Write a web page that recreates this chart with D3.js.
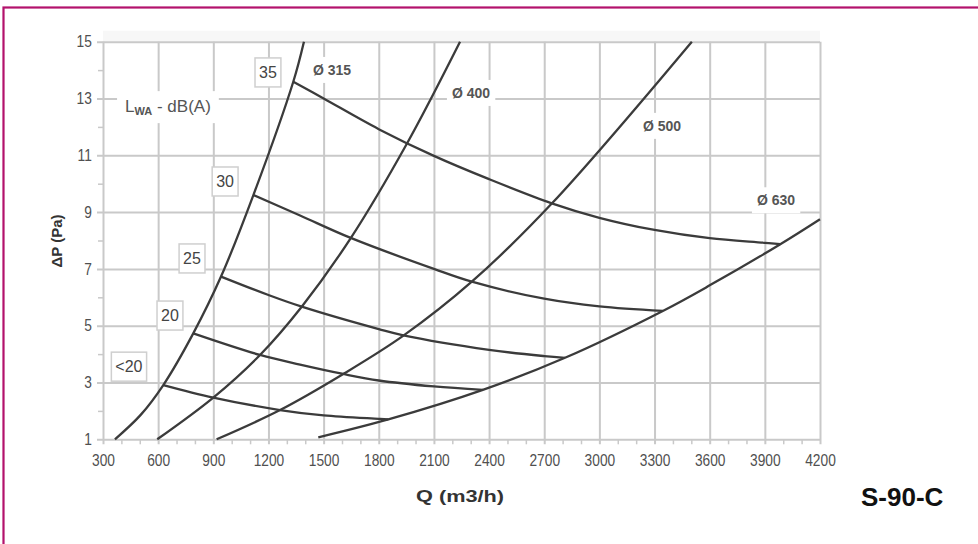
<!DOCTYPE html>
<html>

<head>
    <meta charset="utf-8">
    <style>
        body {
            margin: 0;
            background: #fff;
        }

        svg {
            display: block;
            font-family: 'Liberation Sans', Arial, sans-serif;
        }

        .tick text {
            font-size: 16px;
            fill: #505050;
        }

        .grid line {
            stroke: #c9c9c9;
            stroke-width: 2;
        }

        .minor line {
            stroke: #c9c9c9;
            stroke-width: 1.5;
        }
    </style>
</head>

<body>
    <svg width="978" height="544"></svg>

    <script src="https://d3js.org/d3.v7.min.js"></script>

    <script>
        // axis ticks
        let xTicks = [300, 600, 900, 1200, 1500, 1800, 2100, 2400, 2700, 3000, 3300, 3600, 3900, 4200];
        let yTicks = [1, 3, 5, 7, 9, 11, 13, 15];
        let xMinor = [400, 500, 700, 800, 1000, 1100, 1300, 1400, 1600, 1700, 1900, 2000, 2200, 2300,
            2500, 2600, 2800, 2900, 3100, 3200, 3400, 3500, 3700, 3800, 4000, 4100];
        let yMinor = [2, 4, 6, 8, 10, 12, 14];

        // duct curves  [Q m3/h, dP Pa]
        let duct315 = [[365, 1], [505, 1.86], [628, 2.91], [791, 4.73], [942, 6.73], [1118, 9.6], [1335, 13.59], [1393, 15]];
        let duct400 = [[595, 1], [900, 2.47], [1154, 3.97], [1381, 5.67], [1644, 8.05], [1952, 11.4], [2242, 15]];
        let duct500 = [[918, 1], [1263, 2.03], [1607, 3.3], [1934, 4.65], [2306, 6.55], [2741, 9.3], [3503, 15]];
        let duct630 = [[1471, 1.07], [1852, 1.7], [2366, 2.74], [2813, 3.87], [3345, 5.52], [3600, 6.42], [3984, 7.87], [4200, 8.75]];

        // sound level curves
        let lwLess20 = [[628, 2.91], [900, 2.47], [1263, 2.03], [1500, 1.84], [1800, 1.72], [1852, 1.7]];
        let lw20 = [[791, 4.73], [1154, 3.97], [1372, 3.63], [1607, 3.3], [1800, 3.07], [2100, 2.86], [2366, 2.74]];
        let lw25 = [[942, 6.73], [1200, 6.08], [1381, 5.67], [1800, 4.88], [1934, 4.66], [2400, 4.15], [2700, 3.93], [2813, 3.87]];
        let lw30 = [[1118, 9.6], [1372, 8.88], [1644, 8.1], [2100, 7.0], [2306, 6.55], [2700, 5.95], [3000, 5.68], [3345, 5.52]];
        let lw35 = [[1335, 13.59], [1500, 13.0], [1800, 11.92], [2100, 10.98], [2400, 10.16], [2741, 9.31], [3000, 8.8], [3300, 8.37], [3600, 8.08], [3900, 7.92], [3984, 7.87]];

        // labels
        let ductNames = ["Ø 315", "Ø 400", "Ø 500", "Ø 630"];
        let ductLabelPos = [[1442, 13.83], [2198, 13.02], [3237, 11.86], [3857, 9.24]];
        let lwNames = ["<20", "20", "25", "30", "35"];
        let lwLabelPos = [[441, 3.54], [664, 5.34], [784, 7.35], [964, 10.06], [1197, 13.9]];

        let svg = d3.select("svg");

        // frame round the figure
        svg.append("rect")
            .attr("x", 3.5).attr("y", 7.5)
            .attr("width", 1100).attr("height", 700)
            .style("fill", "none")
            .style("stroke", "#b3126c")
            .style("stroke-width", 2.2);

        let x = d3.scaleLinear().domain([300, 4200]).range([103, 820]);
        let y = d3.scaleLinear().domain([1, 15]).range([439.3, 41.7]);

        // faint band above the plot
        svg.append("rect")
            .attr("x", x(300)).attr("y", y(15) - 11)
            .attr("width", x(4200) - x(300)).attr("height", 11)
            .style("fill", "#f7f7f7");

        // grid + tick labels
        let gridY = svg.append("g")
            .attr("class", "grid")
            .attr("transform", `translate(${x(300) - 6},0)`)
            .call(d3.axisLeft(y).tickValues(yTicks).tickSizeInner(-(x(4200) - x(300) + 6)).tickSizeOuter(0).tickPadding(6).tickFormat(d3.format("d")));
        gridY.select(".domain").remove();

        let gridX = svg.append("g")
            .attr("class", "grid")
            .attr("transform", `translate(0,${y(1) + 5})`)
            .call(d3.axisBottom(x).tickValues(xTicks).tickSizeInner(-(y(1) + 5 - y(15))).tickSizeOuter(0).tickPadding(10).tickFormat(d3.format("d")));
        gridX.select(".domain").remove();

        // narrow look of the tick numbers
        svg.selectAll(".grid .tick text").attr("transform", "scale(0.86,1)");

        // minor ticks
        let minY = svg.append("g")
            .attr("class", "minor")
            .attr("transform", `translate(${x(300)},0)`)
            .call(d3.axisLeft(y).tickValues(yMinor).tickSize(5).tickFormat(""));
        minY.select(".domain").remove();

        let minX = svg.append("g")
            .attr("class", "minor")
            .attr("transform", `translate(0,${y(1)})`)
            .call(d3.axisBottom(x).tickValues(xMinor).tickSize(5).tickFormat(""));
        minX.select(".domain").remove();

        // helper: text with white / boxed background
        function labelWithBg(g, txt, px, py, opts) {
            let t = g.append("text")
                .attr("x", px).attr("y", py)
                .attr("text-anchor", opts.anchor || "start")
                .style("font-size", opts.size + "px")
                .style("font-weight", opts.weight || "normal")
                .style("fill", opts.color || "#444")
                .text(txt);
            let bb = t.node().getBBox();
            g.insert("rect", "text")
                .attr("x", bb.x - opts.padX)
                .attr("y", bb.y - opts.padY)
                .attr("width", bb.width + opts.padX * 2)
                .attr("height", bb.height + opts.padY * 2)
                .style("fill", "#fff")
                .style("stroke", opts.stroke || "none")
                .style("stroke-width", 1.5);
            return t;
        }

        // sound level title
        let lwaG = svg.append("g");
        let lwa = lwaG.append("text")
            .attr("x", x(420)).attr("y", y(12.52))
            .style("font-size", "17px")
            .style("fill", "#555");
        lwa.append("tspan").text("L");
        lwa.append("tspan").attr("dy", 3).style("font-size", "11px").style("font-weight", "bold").text("WA");
        lwa.append("tspan").attr("dy", -3).text(" - dB(A)");
        let lbb = lwa.node().getBBox();
        lwaG.insert("rect", "text")
            .attr("x", lbb.x - 8).attr("y", lbb.y - 6)
            .attr("width", lbb.width + 16).attr("height", lbb.height + 12)
            .style("fill", "#fff");

        // duct labels
        let ductG = svg.append("g");
        ductNames.forEach((n, i) => {
            let g = ductG.append("g");
            labelWithBg(g, n, x(ductLabelPos[i][0]), y(ductLabelPos[i][1]),
                { size: 14, weight: "bold", color: "#555", padX: 5, padY: 5 });
        });

        // curves
        let line = d3.line()
            .x(d => x(d[0]))
            .y(d => y(d[1]))
            .curve(d3.curveCatmullRom.alpha(0.5));

        let curves = [duct315, duct400, duct500, duct630, lwLess20, lw20, lw25, lw30, lw35];
        svg.append("g")
            .selectAll("path")
            .data(curves)
            .join("path")
            .attr("d", line)
            .style("fill", "none")
            .style("stroke", "#3b3b3b")
            .style("stroke-width", 2.3)
            .style("stroke-linejoin", "round");

        // sound level boxes
        let lwG = svg.append("g");
        lwNames.forEach((n, i) => {
            let g = lwG.append("g");
            labelWithBg(g, n, x(lwLabelPos[i][0]), y(lwLabelPos[i][1]) + 5,
                { size: 16, anchor: "middle", color: "#444", padX: 4, padY: 6, stroke: "#cfcfcf" });
        });

        // axis titles
        svg.append("text")
            .attr("transform", "translate(62,241) rotate(-90)")
            .attr("text-anchor", "middle")
            .style("font-size", "15px")
            .style("font-weight", "bold")
            .style("fill", "#333")
            .text("ΔP (Pa)");

        svg.append("text")
            .attr("x", 460).attr("y", 502)
            .attr("text-anchor", "middle")
            .attr("textLength", 88)
            .attr("lengthAdjust", "spacingAndGlyphs")
            .style("font-size", "16px")
            .style("font-weight", "bold")
            .style("fill", "#333")
            .text("Q (m3/h)");

        svg.append("text")
            .attr("x", 861).attr("y", 506)
            .style("font-size", "26px")
            .style("font-weight", "bold")
            .style("fill", "#111")
            .text("S-90-C");
    </script>
</body>

</html>
